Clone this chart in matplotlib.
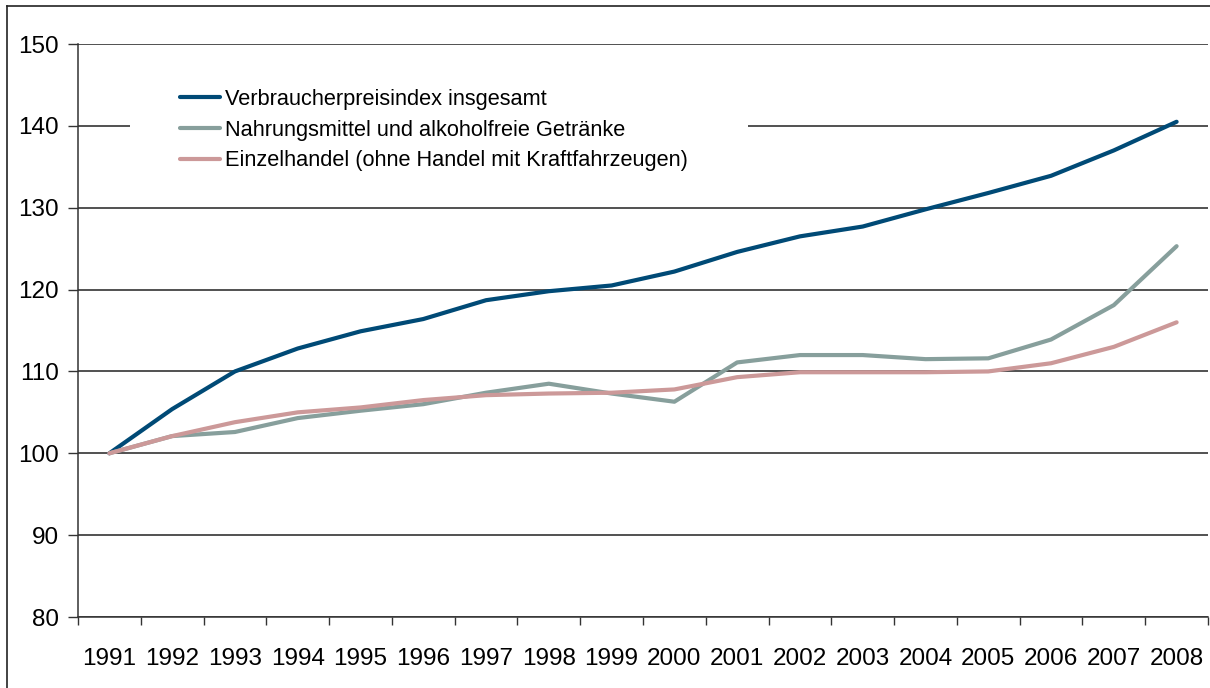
import matplotlib

matplotlib.use("Agg")
import matplotlib.pyplot as plt
import numpy as np
from matplotlib.lines import Line2D
from matplotlib.patches import Rectangle

plt.rcParams["font.family"] = ["Liberation Sans", "DejaVu Sans"]

years = [str(y) for y in range(1991, 2009)]
vpi_total = [100.0, 105.4, 110.0, 112.8, 114.9, 116.4, 118.7, 119.8, 120.5,
             122.2, 124.6, 126.5, 127.7, 129.8, 131.8, 133.9, 137.0, 140.5]
food = [100.0, 102.1, 102.6, 104.3, 105.2, 106.0, 107.4, 108.5, 107.3,
        106.3, 111.1, 112.0, 112.0, 111.5, 111.6, 113.9, 118.1, 125.3]
retail = [100.0, 102.1, 103.8, 105.0, 105.6, 106.5, 107.1, 107.3, 107.4,
          107.8, 109.3, 109.9, 109.9, 109.9, 110.0, 111.0, 113.0, 116.0]
labels = [
    "Verbraucherpreisindex insgesamt",
    "Nahrungsmittel und alkoholfreie Getränke",
    "Einzelhandel (ohne Handel mit Kraftfahrzeugen)",
]
colors = ["#004a76", "#879f9c", "#cc9999"]

W, H = 1210, 688
fig = plt.figure(figsize=(W / 100, H / 100), dpi=100)
ax = fig.add_axes([78 / W, (H - 617) / H, (1208 - 78) / W, (617 - 44) / H])

x = np.arange(len(years))
for series, label, color in zip([vpi_total, food, retail], labels, colors):
    ax.plot(x, series, color=color, lw=3.0, label=label, solid_capstyle="round", zorder=3)

ax.set_xlim(-0.5, len(years) - 0.5)
ax.set_ylim(80, 150)
ax.set_yticks(np.arange(80, 151, 10))
ax.set_xticks(np.arange(-0.5, len(years), 1.0))
ax.set_xticklabels([])
ax.set_xticks(x, minor=True)
ax.set_xticklabels(years, minor=True)
ax.tick_params(axis="x", which="major", direction="out", length=6, width=1.0, color="#333333")
ax.tick_params(axis="x", which="minor", length=0, pad=22, labelsize=17.5)
ax.tick_params(axis="y", direction="out", length=7, width=1.0, color="#333333", pad=7, labelsize=17.5)

ax.yaxis.grid(True, color="#222222", lw=1.1, zorder=1)
ax.set_axisbelow(True)
for side in ["top", "right"]:
    ax.spines[side].set_visible(False)
for side in ["left", "bottom"]:
    ax.spines[side].set_color("#333333")
    ax.spines[side].set_linewidth(1.1)

# white box behind the legend hides the 140 gridline
ax.add_patch(Rectangle(((130 - 78) / 1130, 0.76), (748 - 130) / 1130, 0.21,
                       transform=ax.transAxes, facecolor="white", edgecolor="none", zorder=2))
ax.legend(loc="upper left", bbox_to_anchor=((180 - 78) / 1130, 0.922), frameon=False,
          fontsize=15.7, handlelength=1.85, handletextpad=0.2, labelspacing=0.45,
          borderpad=0, borderaxespad=0)

# outer frame of the picture
fig.add_artist(Line2D([7 / W, 7 / W], [0, 1 - 6 / H], color="#222222", lw=1.2, transform=fig.transFigure))
fig.add_artist(Line2D([7 / W, 1], [1 - 6 / H, 1 - 6 / H], color="#222222", lw=1.2, transform=fig.transFigure))

fig.savefig("out.png", dpi=100)
